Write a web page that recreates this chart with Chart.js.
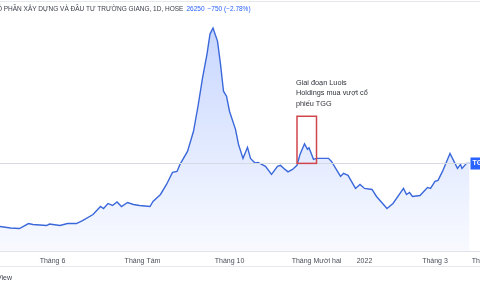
<!DOCTYPE html>
<html lang="vi">
<head>
<meta charset="UTF-8">
<title>TGG 1D</title>
<style>
    * { margin: 0; padding: 0; box-sizing: border-box; }
    html, body { width: 480px; height: 288px; overflow: hidden; background: #fff; }
    body { position: relative; font-family: "Liberation Sans", Arial, sans-serif; }
    #chart { position: absolute; left: 0; top: 0; }
    #title {
        position: absolute; top: 5px; left: 0; white-space: nowrap;
        font-size: 6.5px; color: #3a3e4a;
    }
    #title .blue { color: #2962ff; margin-left: 3px; }
    #note {
        position: absolute; left: 296px; top: 78px;
        font-size: 7.3px; line-height: 10.3px; color: #2f323a;
    }
    #view { position: absolute; left: -3px; top: 274px; font-size: 7px; color: #3a3e4a; }
</style>
</head>
<body>

<canvas id="chart" width="495" height="288"></canvas>
<div id="title"><span id="cut">CÔNG TY C</span>Ổ PHẦN XÂY DỰNG VÀ ĐẦU TƯ TRƯỜNG GIANG, 1D, HOSE<span class="blue">26250</span><span class="blue">−750 (−2.78%)</span></div>
<div id="note">Giai đoạn Luois<br>Holdings mua vượt cổ<br>phiếu TGG</div>
<div id="view">View</div>

<script src="https://cdn.jsdelivr.net/npm/chart.js@4.4.0/dist/chart.umd.min.js"></script>
<script>
// phiên giao dịch (trading session index) and close price
const sessions = [0,7,13,19,22,31,33,40,45,51,55,62,67,69,72,75,78,81,85,89,93,100,102,107,111,115,118,120,125,129,132,135,138,140,142,145,147,149,151,153,157,159,162,165,167,170,172,177,181,185,187,190,192,195,198,200,203,205,206,209,211,215,219,221,225,227,229,232,237,240,243,248,251,258,262,269,271,273,275,280,285,287,290,292,295,300,305,307,308,311,313];
const prices = [13650,13350,13250,14250,14050,13850,14150,13850,14250,14250,14850,16050,17650,17250,18250,17850,18550,17650,18450,18050,17850,17650,18650,20050,22050,24450,24650,26050,28650,32650,37650,43250,48050,52050,53250,50650,46050,40650,39650,36650,33050,30050,27250,29450,27250,26350,26450,25650,24050,25650,25850,25050,24550,25050,25850,28050,30150,29050,29350,27050,27250,27250,27250,26650,24650,23650,24250,23850,21250,22050,21250,21050,19650,17250,18250,21250,20050,20450,19650,19850,21450,21250,22650,22850,24650,28250,25250,26050,25250,26250,26250];

const tickSessions = [35, 95, 153, 211, 243, 290, 323];
const tickLabels = ['Tháng 6', 'Tháng Tám', 'Tháng 10', 'Tháng Mười hai', '2022', 'Tháng 3', 'Tháng 4'];

const lastPrice = 26250;
const symbol = 'TGG';
// highlighted period (sessions) and price range
const boxSessions = [198, 211];
const boxPrices = [26250, 35650];

// shift the title so the start of the name is cut like the screenshot
const cut = document.getElementById('cut');
document.getElementById('title').style.left = -(cut.offsetWidth + 3) + 'px';

const extras = {
    id: 'extras',
    afterDatasetsDraw(chart) {
        const { ctx, chartArea, scales: { x, y } } = chart;
        ctx.save();
        // frame lines
        ctx.strokeStyle = '#e6e8ee';
        ctx.lineWidth = 1;
        ctx.beginPath();
        ctx.moveTo(0, 1.5); ctx.lineTo(chart.width, 1.5);
        ctx.moveTo(0, 266.5); ctx.lineTo(chart.width, 266.5);
        ctx.stroke();
        // last price line
        const py = Math.round(y.getPixelForValue(lastPrice)) + 0.5;
        const endX = x.getPixelForValue(sessions[sessions.length - 1]);
        ctx.strokeStyle = '#d6d9e0';
        ctx.beginPath();
        ctx.moveTo(chartArea.left, py); ctx.lineTo(endX, py);
        ctx.stroke();
        // red box
        const bx1 = x.getPixelForValue(boxSessions[0]);
        const bx2 = x.getPixelForValue(boxSessions[1]);
        const by1 = y.getPixelForValue(boxPrices[1]);
        const by2 = y.getPixelForValue(boxPrices[0]);
        ctx.strokeStyle = '#d0454c';
        ctx.lineWidth = 1.5;
        ctx.strokeRect(bx1, by1, bx2 - bx1, by2 - by1);
        // symbol label on price scale
        ctx.fillStyle = '#2962ff';
        ctx.fillRect(endX + 1, py - 6, 40, 12);
        ctx.fillStyle = '#fff';
        ctx.font = 'bold 7px "Liberation Sans", Arial, sans-serif';
        ctx.textBaseline = 'middle';
        ctx.fillText(symbol, endX + 3, py);
        ctx.restore();
    }
};

new Chart(document.getElementById('chart'), {
    type: 'line',
    data: {
        datasets: [{
            data: sessions.map((s, i) => ({ x: s, y: prices[i] })),
            borderColor: '#3a68da',
            borderWidth: 1.4,
            pointRadius: 0,
            tension: 0,
            fill: 'start',
            backgroundColor: (c) => {
                const area = c.chart.chartArea;
                if (!area) return 'rgba(41,98,255,0.15)';
                const g = c.chart.ctx.createLinearGradient(0, area.top, 0, area.bottom);
                g.addColorStop(0, 'rgba(41,98,255,0.28)');
                g.addColorStop(1, 'rgba(41,98,255,0.03)');
                return g;
            }
        }]
    },
    options: {
        responsive: false,
        animation: false,
        devicePixelRatio: 1,
        layout: { autoPadding: false, padding: { top: 3, bottom: 18, left: 0, right: 0 } },
        plugins: { legend: { display: false }, tooltip: { enabled: false } },
        scales: {
            x: {
                type: 'linear',
                min: 0,
                max: 330,
                grid: { display: false, drawTicks: false },
                border: { display: true, color: '#e0e3eb' },
                afterBuildTicks: (axis) => { axis.ticks = tickSessions.map(v => ({ value: v })); },
                afterFit: (axis) => { axis.paddingLeft = 0; axis.paddingRight = 0; },
                ticks: {
                    autoSkip: false,
                    maxRotation: 0,
                    padding: 5,
                    color: '#4a4e5a',
                    font: { size: 7, family: '"Liberation Sans", Arial, sans-serif' },
                    callback: (v, i) => tickLabels[i]
                }
            },
            y: { display: false, min: 8650, max: 58250 }
        }
    },
    plugins: [extras]
});
</script>
</body>
</html>
